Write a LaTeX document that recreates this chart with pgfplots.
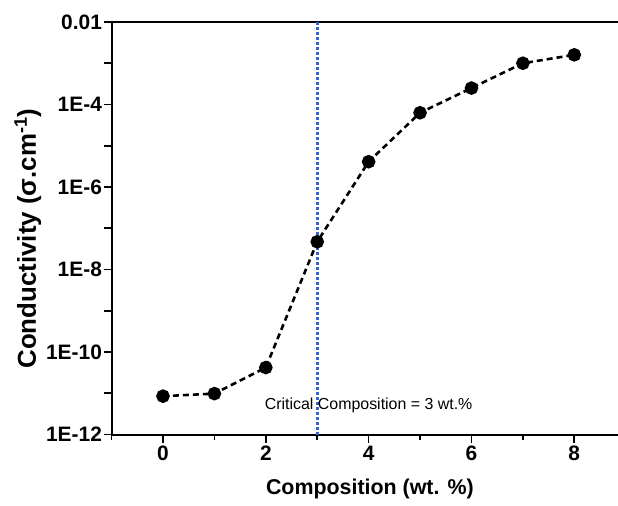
\documentclass[border=0pt]{standalone}
\usepackage{fontspec}
\setmainfont{Liberation Sans}
\usepackage{pgfplots}
\pgfplotsset{compat=1.18}
\definecolor{critblue}{RGB}{50,100,215}

\begin{document}
\begin{tikzpicture}
\begin{axis}[
    scale only axis,
    width=507bp, height=413bp,
    xmin=-1, xmax=8.85,
    ymode=log, ymin=1e-12, ymax=1e-2,
    axis x line=box, axis y line=left,
    axis line style={-, line width=2bp, black},
    tick pos=left,
    tick align=outside,
    major tick length=8bp, minor tick length=5bp,
    every tick/.style={black, line width=1.6bp},
    xtick={0,2,4,6,8},
    minor xtick={-1,1,3,5,7},
    ytick={1e-12,1e-10,1e-8,1e-6,1e-4,1e-2},
    yticklabels={1E-12,1E-10,1E-8,1E-6,1E-4,0.01},
    extra y ticks={1e-11,1e-9,1e-7,1e-5,1e-3},
    extra y tick labels={},
    /pgf/number format/assume math mode=true,
    tick label style={font=\fontsize{21}{21}\selectfont\bfseries},
    yticklabel style={inner sep=1.5bp},
    xticklabel style={inner sep=3bp},
    xlabel={Composition (wt. \%)},
    ylabel={Conductivity (σ.cm\textsuperscript{-1})},
    xlabel style={font=\fontsize{21.5}{21.5}\selectfont\bfseries,
        at={(axis description cs:0.51,-0.133)}, anchor=center},
    ylabel style={font=\fontsize{26}{26}\selectfont\bfseries,
        at={(axis description cs:-0.1655,0.475)}, anchor=center, rotate=0},
    clip=false,
]
% critical composition marker
\addplot[critblue, line width=3bp, dash pattern=on 2.6bp off 2.4bp]
    coordinates {(3,1e-12) (3,1e-2)};

\addplot[black, line width=2.6bp, dash pattern=on 6bp off 4bp,
    mark=*, mark size=5.5bp, mark options={solid, fill=black}]
    coordinates {
    (0,8.5e-12) (1,9.8e-12) (2,4.2e-11) (3,4.7e-8) (4,4.1e-6)
    (5,6.3e-5) (6,2.5e-4) (7,1.0e-3) (8,1.6e-3)
    };

\node[font=\fontsize{16}{16}\selectfont] at (axis cs:4,5e-12)
    {Critical Composition = 3 wt.\%};

\coordinate (ll) at (rel axis cs:0,0);
\coordinate (ur) at (rel axis cs:1,1);
\end{axis}
\pgfresetboundingbox
\path ([shift={(-111.7bp,-71bp)}]ll) rectangle ([shift={(0,22bp)}]ur);
\end{tikzpicture}
\end{document}
